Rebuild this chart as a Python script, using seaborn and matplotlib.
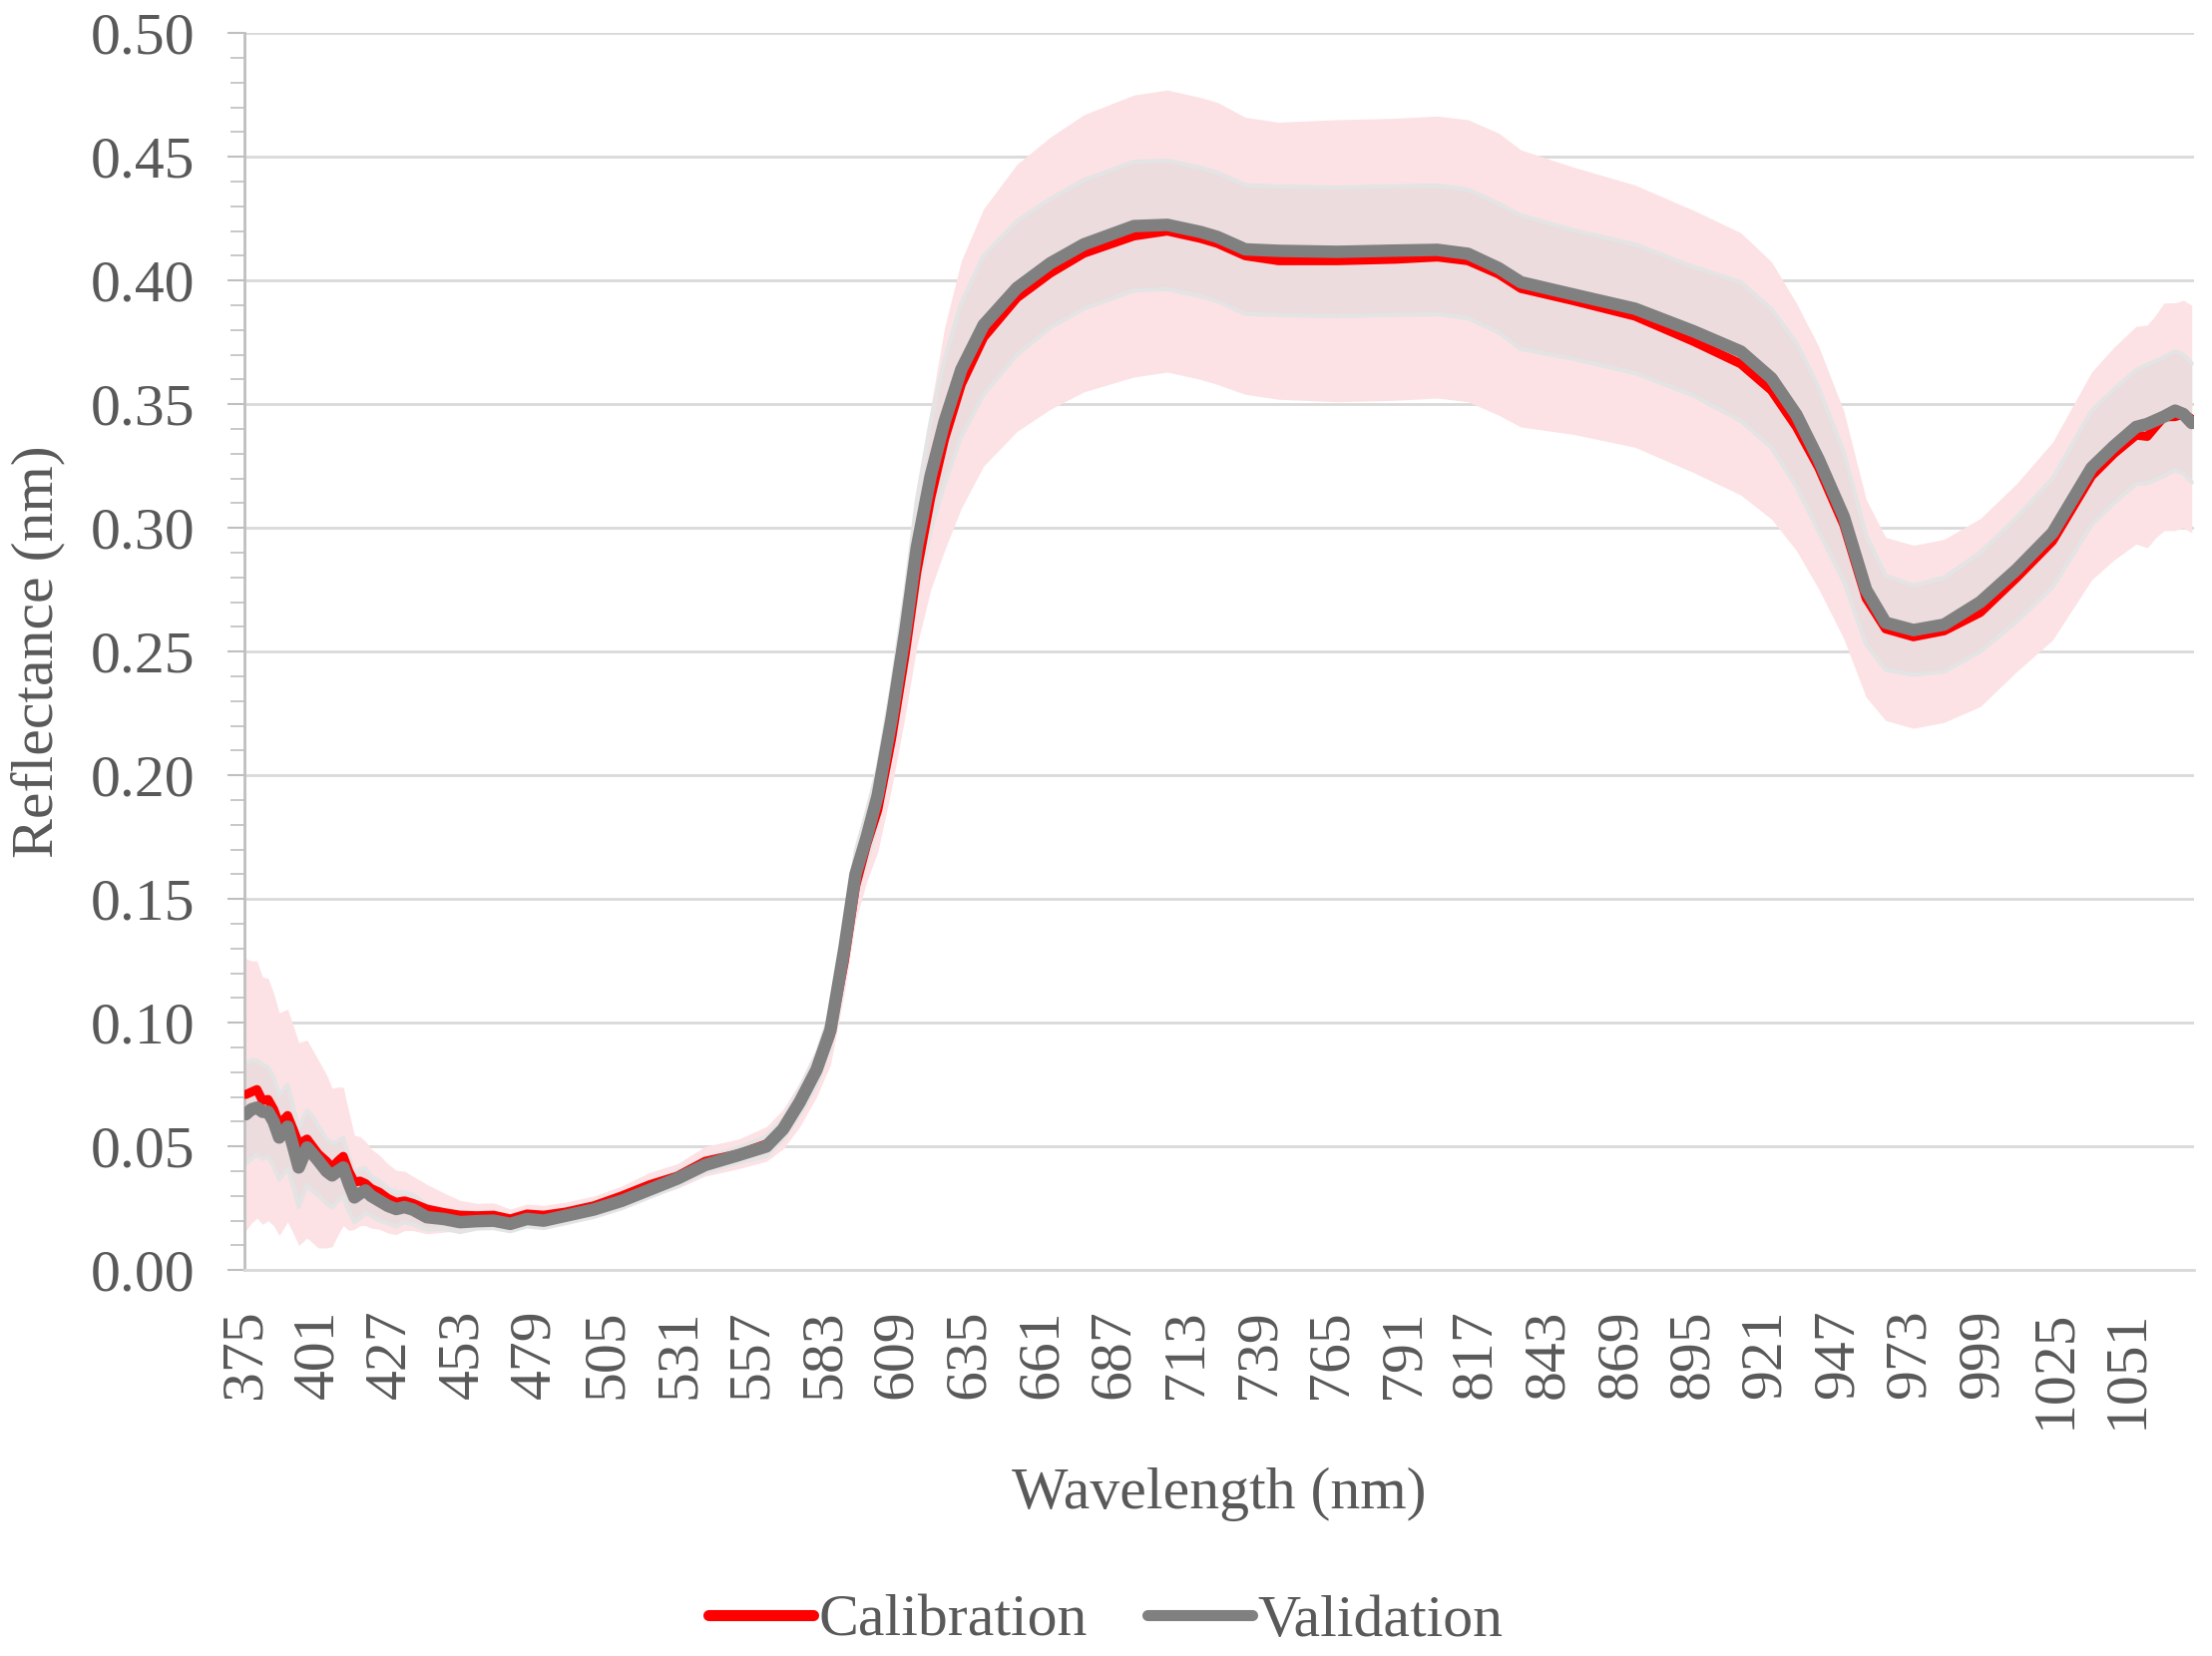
"""
Reflectance spectra: calibration vs validation sets (mean +/- SD).
"""

import numpy as np
import matplotlib
matplotlib.use("Agg")
import matplotlib.pyplot as plt
import seaborn as sns
from matplotlib.lines import Line2D


# ---------------------------------------------------------------------------
# Data
# ---------------------------------------------------------------------------

wavelength = [375, 377, 379, 381, 383, 385, 387, 390, 392, 394,
              397, 399, 401, 404, 406, 408, 410, 412, 414, 416,
              418, 420, 423, 426, 429, 432, 435, 440, 446, 452,
              458, 464, 470, 476, 482, 490, 500, 510, 520, 530,
              540, 552, 562, 568, 574, 580, 585, 590, 594, 598,
              602, 607, 612, 616, 621, 626, 632, 640, 652, 664,
              676, 694, 706, 718, 724, 734, 746, 767, 788, 803,
              814, 825, 833, 852, 874, 895, 912, 923, 932, 940,
              949, 957, 964, 974, 985, 998, 1011, 1024, 1038, 1046,
              1054, 1058, 1061, 1064, 1068, 1071, 1074]

calibration_mean = [0.071, 0.072, 0.073, 0.0685, 0.069, 0.065, 0.059, 0.0625, 0.057, 0.051,
                    0.053, 0.050, 0.047, 0.044, 0.0415, 0.044, 0.046, 0.040, 0.0355, 0.036,
                    0.035, 0.033, 0.0315, 0.029, 0.0274, 0.028, 0.027, 0.0247, 0.0233, 0.0222,
                    0.022, 0.0222, 0.0207, 0.0227, 0.0222, 0.0235, 0.026, 0.030, 0.0345, 0.038,
                    0.044, 0.047, 0.051, 0.057, 0.067, 0.080, 0.095, 0.125, 0.155, 0.172,
                    0.186, 0.215, 0.250, 0.282, 0.312, 0.336, 0.358, 0.377, 0.393, 0.403,
                    0.411, 0.418, 0.420, 0.417, 0.415, 0.410, 0.408, 0.408, 0.4086, 0.4095,
                    0.408, 0.4026, 0.3968, 0.3918, 0.3856, 0.3754, 0.3663, 0.3556, 0.3408, 0.3243,
                    0.3012, 0.2716, 0.2592, 0.256, 0.2584, 0.2658, 0.2798, 0.2947, 0.321, 0.330,
                    0.3375, 0.337, 0.341, 0.3449, 0.345, 0.346, 0.344]

validation_mean = [0.063, 0.065, 0.0657, 0.064, 0.064, 0.060, 0.0536, 0.058, 0.050, 0.0415,
                   0.0496, 0.047, 0.0443, 0.040, 0.0383, 0.040, 0.0415, 0.035, 0.0294, 0.031,
                   0.0322, 0.030, 0.028, 0.026, 0.0247, 0.0255, 0.0245, 0.0214, 0.0207, 0.0194,
                   0.0198, 0.020, 0.0187, 0.0207, 0.020, 0.022, 0.0245, 0.028, 0.0325, 0.037,
                   0.0425, 0.0465, 0.050, 0.057, 0.068, 0.081, 0.097, 0.130, 0.160, 0.175,
                   0.192, 0.223, 0.259, 0.292, 0.321, 0.343, 0.364, 0.382, 0.397, 0.407,
                   0.4146, 0.422, 0.4225, 0.4196, 0.4176, 0.4126, 0.412, 0.4116, 0.4121, 0.4124,
                   0.4108, 0.405, 0.3993, 0.3943, 0.3886, 0.3795, 0.3713, 0.3605, 0.3457, 0.3276,
                   0.3045, 0.275, 0.2617, 0.2587, 0.2609, 0.270, 0.2831, 0.298, 0.3243, 0.333,
                   0.3408, 0.342, 0.3435, 0.345, 0.3474, 0.346, 0.3424]

calibration_sd = [0.055, 0.053, 0.052, 0.050, 0.049, 0.047, 0.045, 0.043, 0.042, 0.041,
                  0.040, 0.039, 0.038, 0.035, 0.032, 0.030, 0.028, 0.024, 0.019, 0.018,
                  0.017, 0.016, 0.015, 0.014, 0.013, 0.012, 0.011, 0.010, 0.008, 0.006,
                  0.005, 0.005, 0.004, 0.004, 0.004, 0.004, 0.004, 0.004, 0.005, 0.005,
                  0.006, 0.006, 0.007, 0.008, 0.009, 0.010, 0.012, 0.013, 0.014, 0.015,
                  0.017, 0.020, 0.025, 0.030, 0.037, 0.045, 0.050, 0.052, 0.054, 0.055,
                  0.056, 0.057, 0.057, 0.057, 0.057, 0.056, 0.056, 0.057, 0.057, 0.057,
                  0.057, 0.057, 0.056, 0.054, 0.053, 0.053, 0.053, 0.052, 0.050, 0.049,
                  0.046, 0.040, 0.037, 0.037, 0.037, 0.038, 0.038, 0.040, 0.042, 0.043,
                  0.044, 0.045, 0.045, 0.046, 0.046, 0.046, 0.046]

validation_sd = [0.020, 0.020, 0.019, 0.019, 0.018, 0.018, 0.017, 0.017, 0.016, 0.016,
                 0.015, 0.015, 0.014, 0.013, 0.013, 0.012, 0.012, 0.011, 0.010, 0.010,
                 0.009, 0.008, 0.008, 0.007, 0.007, 0.006, 0.006, 0.005, 0.004, 0.004,
                 0.003, 0.003, 0.003, 0.003, 0.003, 0.003, 0.003, 0.003, 0.003, 0.003,
                 0.003, 0.003, 0.004, 0.004, 0.005, 0.006, 0.007, 0.008, 0.009, 0.010,
                 0.011, 0.013, 0.016, 0.019, 0.022, 0.025, 0.027, 0.028, 0.027, 0.026,
                 0.026, 0.026, 0.026, 0.026, 0.026, 0.026, 0.026, 0.026, 0.026, 0.026,
                 0.026, 0.026, 0.027, 0.026, 0.026, 0.026, 0.028, 0.028, 0.029, 0.029,
                 0.026, 0.022, 0.019, 0.018, 0.019, 0.020, 0.021, 0.022, 0.023, 0.023,
                 0.023, 0.024, 0.024, 0.024, 0.024, 0.024, 0.024]

x_tick_labels = list(range(375, 1052, 26))
y_ticks = [0.00, 0.05, 0.10, 0.15, 0.20, 0.25, 0.30, 0.35, 0.40, 0.45, 0.50]

TEXT = "#595959"
FS = 43


# ---------------------------------------------------------------------------
# Plot
# ---------------------------------------------------------------------------

sns.set_style("white")
plt.rcParams["font.family"] = ["Liberation Serif", "DejaVu Serif"]

wl = np.array(wavelength)
cal = np.array(calibration_mean)
val = np.array(validation_mean)
cal_sd = np.array(calibration_sd)
val_sd = np.array(validation_sd)

fig = plt.figure(figsize=(22.17, 16.6), dpi=100)
ax = fig.add_axes([0.1105, 0.233, 0.8815, 0.747])

# error bands (calibration SD pink, validation SD light grey)
ax.fill_between(wl, cal - cal_sd, cal + cal_sd, color="#fce2e5", lw=0, zorder=1)
ax.fill_between(wl, val - val_sd, val + val_sd, color="#d4d4d4", alpha=0.4, lw=0, zorder=2)
ax.plot(wl, val + val_sd, color="#e4e4e4", lw=3, zorder=2)
ax.plot(wl, val - val_sd, color="#e4e4e4", lw=3, zorder=2)

sns.lineplot(x=wl, y=cal, color="#ff0000", lw=6.5, ax=ax, zorder=4, label="Calibration")
sns.lineplot(x=wl, y=val, color="#808080", lw=9, ax=ax, zorder=5, label="Validation")
if ax.get_legend() is not None:
    ax.get_legend().remove()

ax.set_xlim(374.5, 1074.9)
ax.set_ylim(0, 0.5)

ax.set_yticks(y_ticks)
ax.set_yticklabels([f"{v:.2f}" for v in y_ticks])
ax.set_yticks(np.arange(0, 0.501, 0.01), minor=True)
ax.set_xticks(x_tick_labels)
ax.set_xticklabels([str(v) for v in x_tick_labels], rotation=90)

ax.tick_params(axis="y", which="major", direction="out", length=12, width=1.5,
               color="#bfbfbf", labelsize=FS, labelcolor=TEXT, pad=24, left=True)
ax.tick_params(axis="y", which="minor", direction="out", length=10, width=1.2,
               color="#bfbfbf", left=True)
ax.tick_params(axis="x", which="major", length=0, labelsize=FS, labelcolor=TEXT, pad=28)

ax.grid(axis="y", color="#d9d9d9", lw=2, zorder=0)
ax.grid(axis="x", visible=False)
ax.set_axisbelow(True)

for side in ["top", "right"]:
    ax.spines[side].set_visible(False)
ax.spines["left"].set_color("#bfbfbf")
ax.spines["left"].set_linewidth(2)
ax.spines["bottom"].set_color("#d9d9d9")
ax.spines["bottom"].set_linewidth(2)

ax.set_xlabel("Wavelength (nm)", fontsize=FS, color=TEXT, labelpad=28)
ax.set_ylabel("Reflectance (nm)", fontsize=FS, color=TEXT, labelpad=18)

handles = [Line2D([], [], color="#ff0000", lw=8),
           Line2D([], [], color="#808080", lw=8)]
fig.legend(handles, ["Calibration", "Validation"], loc="center",
           bbox_to_anchor=(0.5, 0.021), ncol=2, frameon=False,
           fontsize=FS, labelcolor=TEXT, handlelength=1.75,
           handletextpad=0.1, columnspacing=1.0)

fig.savefig("out.png", dpi=100)
